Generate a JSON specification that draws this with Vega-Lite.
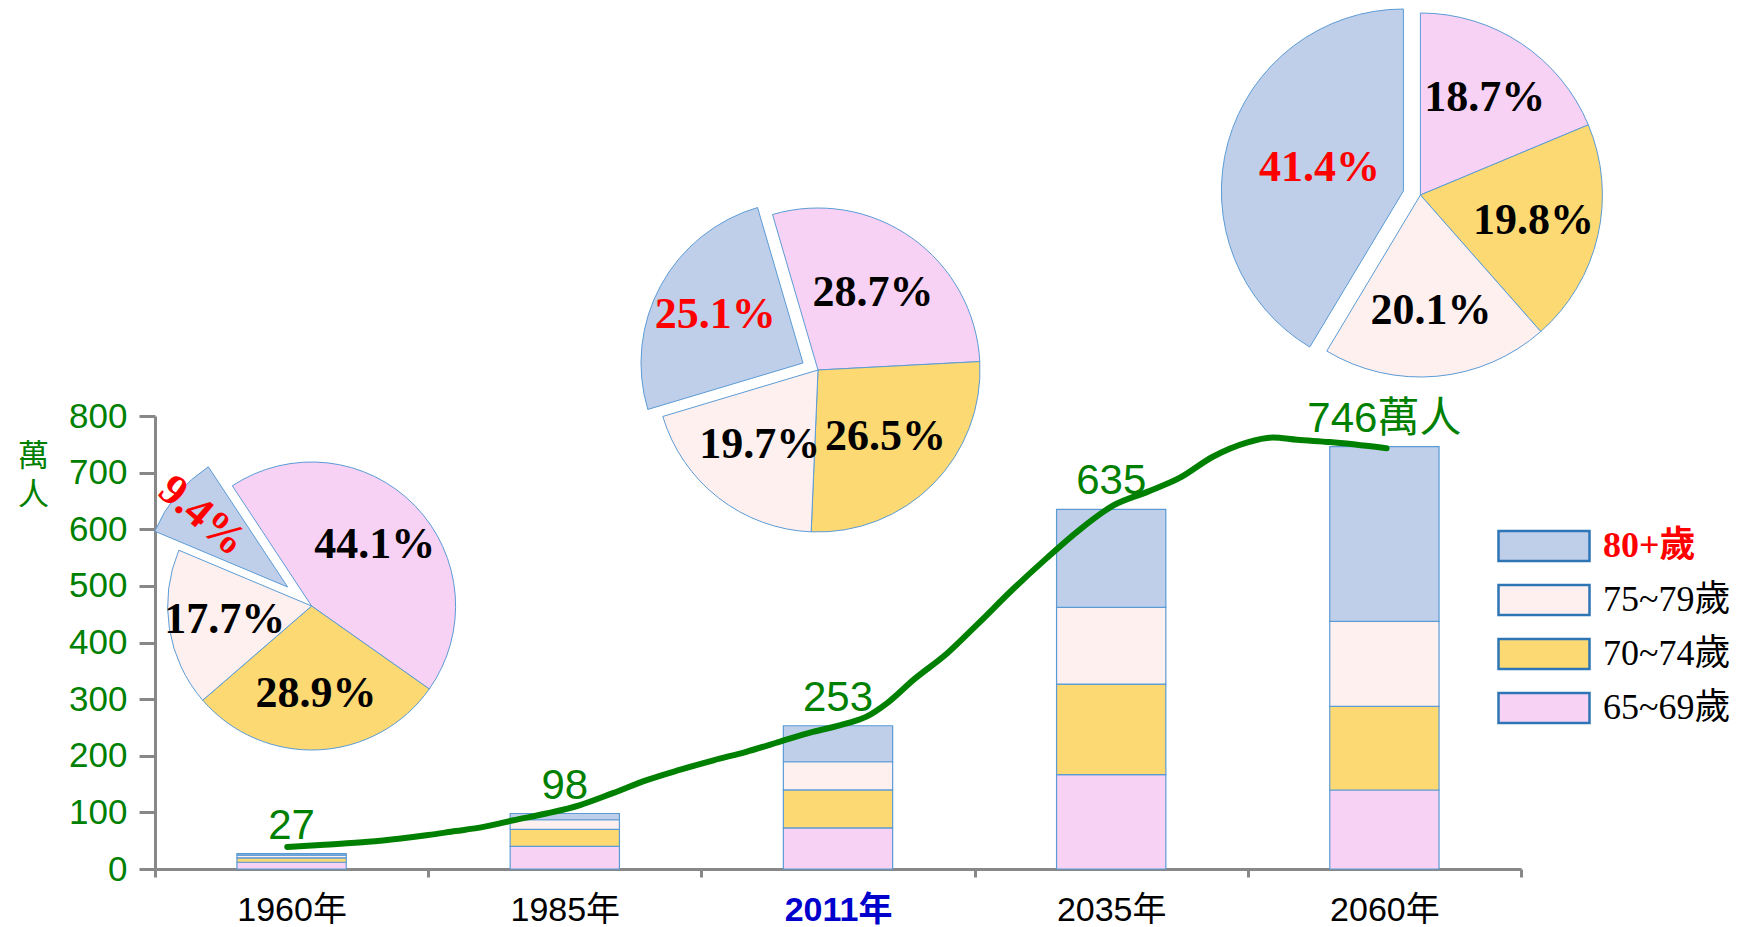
{
  "$schema": "https://vega.github.io/schema/vega-lite/v6.json",
  "width": 1366,
  "height": 453,
  "autosize": {"type": "none"},
  "padding": {"left": 155, "top": 416, "right": 217, "bottom": 58},
  "background": "white",
  "config": {"view": {"stroke": null}},
  "datasets": {
    "bars": [
      {"year": "1960年", "group": "65~69歲", "value": 11.9},
      {"year": "1960年", "group": "70~74歲", "value": 7.8},
      {"year": "1960年", "group": "75~79歲", "value": 4.8},
      {"year": "1960年", "group": "80+歲", "value": 2.5},
      {"year": "1985年", "group": "65~69歲", "value": 40},
      {"year": "1985年", "group": "70~74歲", "value": 30},
      {"year": "1985年", "group": "75~79歲", "value": 17},
      {"year": "1985年", "group": "80+歲", "value": 11},
      {"year": "2011年", "group": "65~69歲", "value": 72.6},
      {"year": "2011年", "group": "70~74歲", "value": 67.0},
      {"year": "2011年", "group": "75~79歲", "value": 49.8},
      {"year": "2011年", "group": "80+歲", "value": 63.6},
      {"year": "2035年", "group": "65~69歲", "value": 166.5},
      {"year": "2035年", "group": "70~74歲", "value": 160},
      {"year": "2035年", "group": "75~79歲", "value": 135.5},
      {"year": "2035年", "group": "80+歲", "value": 173},
      {"year": "2060年", "group": "65~69歲", "value": 139.5},
      {"year": "2060年", "group": "70~74歲", "value": 147.7},
      {"year": "2060年", "group": "75~79歲", "value": 150.0},
      {"year": "2060年", "group": "80+歲", "value": 308.8}
    ],
    "totals": [
      {"year": "1960年", "total": 27, "label": "27"},
      {"year": "1985年", "total": 98, "label": "98"},
      {"year": "2011年", "total": 253, "label": "253"},
      {"year": "2035年", "total": 635, "label": "635"},
      {"year": "2060年", "total": 746, "label": "746萬人"}
    ],
    "pies": [
      {"year": "1960年", "group": "65~69歲", "p": 0.441},
      {"year": "1960年", "group": "70~74歲", "p": 0.289},
      {"year": "1960年", "group": "75~79歲", "p": 0.177},
      {"year": "1960年", "group": "80+歲", "p": 0.094},
      {"year": "2011年", "group": "65~69歲", "p": 0.287},
      {"year": "2011年", "group": "70~74歲", "p": 0.265},
      {"year": "2011年", "group": "75~79歲", "p": 0.197},
      {"year": "2011年", "group": "80+歲", "p": 0.251},
      {"year": "2060年", "group": "65~69歲", "p": 0.187},
      {"year": "2060年", "group": "70~74歲", "p": 0.198},
      {"year": "2060年", "group": "75~79歲", "p": 0.201},
      {"year": "2060年", "group": "80+歲", "p": 0.414}
    ],
    "line": [
      {"yr": 1959.6, "v": 39}, {"yr": 1963, "v": 43}, {"yr": 1967, "v": 48},
      {"yr": 1970, "v": 54}, {"yr": 1972.5, "v": 60}, {"yr": 1975, "v": 67},
      {"yr": 1977.2, "v": 73}, {"yr": 1980.3, "v": 86}, {"yr": 1983.3, "v": 98},
      {"yr": 1986.4, "v": 113}, {"yr": 1989.4, "v": 134}, {"yr": 1992.5, "v": 157},
      {"yr": 1995.5, "v": 175}, {"yr": 1998.6, "v": 192}, {"yr": 2001.6, "v": 207},
      {"yr": 2004.7, "v": 225}, {"yr": 2007.7, "v": 242}, {"yr": 2010.8, "v": 257},
      {"yr": 2012.6, "v": 269}, {"yr": 2014.5, "v": 293}, {"yr": 2016.9, "v": 334},
      {"yr": 2020, "v": 381}, {"yr": 2022.7, "v": 431}, {"yr": 2026, "v": 494},
      {"yr": 2029.1, "v": 549}, {"yr": 2032.1, "v": 599}, {"yr": 2035.2, "v": 642},
      {"yr": 2038.3, "v": 666}, {"yr": 2041.3, "v": 691}, {"yr": 2044.3, "v": 728},
      {"yr": 2047.4, "v": 753}, {"yr": 2049.8, "v": 762}, {"yr": 2052, "v": 758},
      {"yr": 2055, "v": 754}, {"yr": 2060.2, "v": 743}
    ]
  },
  "layer": [
    {
      "data": {"name": "bars"},
      "mark": {"type": "bar", "width": {"band": 0.4}, "stroke": "#5b9bd5", "strokeWidth": 1.2},
      "encoding": {
        "x": {
          "field": "year", "type": "nominal",
          "scale": {"type": "band", "domain": ["1960年", "1985年", "2011年", "2035年", "2060年"], "paddingInner": 0, "paddingOuter": 0},
          "axis": {
            "title": null, "tickBand": "extent", "labelAngle": 0,
            "labelFont": "Liberation Sans, Noto Sans CJK TC", "labelFontSize": 34,
            "labelColor": {"condition": {"test": "datum.value === '2011年'", "value": "#0000cc"}, "value": "#000000"},
            "labelFontWeight": {"condition": {"test": "datum.value === '2011年'", "value": "bold"}, "value": "normal"},
            "labelPadding": 16, "tickSize": 8, "tickWidth": 3, "tickColor": "#888888",
            "domainColor": "#888888", "domainWidth": 3
          }
        },
        "y": {
          "field": "value", "type": "quantitative", "stack": true,
          "scale": {"domain": [0, 800], "nice": false},
          "axis": {
            "values": [0, 100, 200, 300, 400, 500, 600, 700, 800],
            "title": ["萬", "人"], "titleAngle": 0, "titleX": -122, "titleY": 40,
            "titleAlign": "center", "titleBaseline": "middle", "titleFontSize": 31,
            "titleFont": "Noto Sans CJK TC", "titleFontWeight": "normal", "titleColor": "#008000",
            "titleLineHeight": 39,
            "labelFont": "Liberation Sans", "labelFontSize": 35, "labelColor": "#008000",
            "labelPadding": 12, "tickSize": 16, "tickWidth": 3, "tickColor": "#888888",
            "domainColor": "#888888", "domainWidth": 3, "grid": false, "labelOverlap": false
          }
        },
        "fill": {
          "field": "group", "type": "nominal",
          "scale": {"domain": ["80+歲", "75~79歲", "70~74歲", "65~69歲"], "range": ["#bfcfea", "#fff0f0", "#fcd973", "#f8d2f5"]},
          "legend": {
            "orient": "none", "legendX": 1342, "legendY": 112, "title": null,
            "symbolType": "M-1,-0.33H1V0.33H-1Z", "symbolSize": 8281,
            "symbolStrokeColor": "#2e75b6", "symbolStrokeWidth": 2.5, "symbolOpacity": 1,
            "labelFont": "Liberation Serif, Noto Sans CJK TC", "labelFontSize": 36,
            "labelOffset": 12, "labelLimit": 300,
            "clipHeight": 36, "rowPadding": 18,
            "labelColor": {"expr": "datum.label === '80+歲' ? '#ff0000' : '#000000'"},
            "labelFontWeight": {"expr": "datum.label === '80+歲' ? 'bold' : 'normal'"}
          }
        },
        "order": {"field": "group", "sort": "ascending"}
      }
    },
    {
      "data": {"name": "line"},
      "mark": {"type": "line", "interpolate": "monotone", "strokeWidth": 6, "color": "#008000", "strokeCap": "round"},
      "encoding": {
        "x": {"field": "yr", "type": "quantitative", "scale": {"domain": [1947.5, 2072.5], "nice": false, "zero": false}, "axis": null},
        "y": {"field": "v", "type": "quantitative"}
      }
    },
    {
      "data": {"name": "totals"},
      "mark": {"type": "text", "dy": -15, "baseline": "alphabetic", "fontSize": 42, "font": "Liberation Sans, Noto Sans CJK TC", "fill": "#008000"},
      "encoding": {
        "x": {"field": "year", "type": "nominal", "scale": {"type": "band", "domain": ["1960年", "1985年", "2011年", "2035年", "2060年"], "paddingInner": 0, "paddingOuter": 0}, "axis": null},
        "y": {"field": "total", "type": "quantitative"},
        "text": {"field": "label"}
      }
    },
    {
      "data": {"name": "pies"},
      "transform": [{"filter": "datum.year === '1960年'"}],
      "encoding": {
        "x": {"field": "year", "type": "nominal", "scale": {"type": "band", "domain": ["1960年", "1985年", "2011年", "2035年", "2060年"], "paddingInner": 0, "paddingOuter": 0}, "axis": null},
        "theta": {"field": "p", "type": "quantitative", "stack": true, "scale": {"domain": [0, 1.001], "range": [-0.583, 5.700]}},
        "order": {"field": "group", "sort": "ascending"}
      },
      "layer": [
        {"mark": {"type": "arc", "radius": 144, "xOffset": 20, "yOffset": -36.5, "stroke": "#5b9bd5", "strokeWidth": 1},
         "encoding": {"fill": {"field": "group", "type": "nominal", "legend": null},
                      "opacity": {"condition": {"test": "datum.group === '80+歲'", "value": 0}, "value": 1}}},
        {"mark": {"type": "arc", "radius": 144, "xOffset": -4, "yOffset": -55.5, "stroke": "#5b9bd5", "strokeWidth": 1},
         "encoding": {"fill": {"field": "group", "type": "nominal", "legend": null},
                      "opacity": {"condition": {"test": "datum.group === '80+歲'", "value": 1}, "value": 0}}},
        {"mark": {"type": "text", "radius": 88, "xOffset": 20, "yOffset": -36.5, "font": "Liberation Serif", "fontSize": 44, "fontWeight": "bold", "fill": "#000000"},
         "encoding": {"text": {"field": "p", "type": "quantitative", "format": ".1%"}, "detail": {"field": "group"},
                      "opacity": {"condition": {"test": "datum.group === '80+歲'", "value": 0}, "value": 1}}},
        {"mark": {"type": "text", "radius": 111, "angle": 40, "xOffset": -4, "yOffset": -55.5, "font": "Liberation Serif", "fontSize": 44, "fontWeight": "bold", "fill": "#ff0000"},
         "encoding": {"text": {"field": "p", "type": "quantitative", "format": ".1%"}, "detail": {"field": "group"},
                      "opacity": {"condition": {"test": "datum.group === '80+歲'", "value": 1}, "value": 0}}}
      ]
    },
    {
      "data": {"name": "pies"},
      "transform": [{"filter": "datum.year === '2011年'"}],
      "encoding": {
        "x": {"field": "year", "type": "nominal", "scale": {"type": "band", "domain": ["1960年", "1985年", "2011年", "2035年", "2060年"], "paddingInner": 0, "paddingOuter": 0}, "axis": null},
        "theta": {"field": "p", "type": "quantitative", "stack": true, "scale": {"domain": [0, 1.0], "range": [-0.2845, 5.9987]}},
        "order": {"field": "group", "sort": "ascending"}
      },
      "layer": [
        {"mark": {"type": "arc", "radius": 162, "xOffset": -20, "yOffset": -272.5, "stroke": "#5b9bd5", "strokeWidth": 1},
         "encoding": {"fill": {"field": "group", "type": "nominal", "legend": null},
                      "opacity": {"condition": {"test": "datum.group === '80+歲'", "value": 0}, "value": 1}}},
        {"mark": {"type": "arc", "radius": 162, "xOffset": -35, "yOffset": -279.5, "stroke": "#5b9bd5", "strokeWidth": 1},
         "encoding": {"fill": {"field": "group", "type": "nominal", "legend": null},
                      "opacity": {"condition": {"test": "datum.group === '80+歲'", "value": 1}, "value": 0}}},
        {"mark": {"type": "text", "radius": 95, "xOffset": -20, "yOffset": -272.5, "font": "Liberation Serif", "fontSize": 44, "fontWeight": "bold", "fill": "#000000"},
         "encoding": {"text": {"field": "p", "type": "quantitative", "format": ".1%"}, "detail": {"field": "group"},
                      "opacity": {"condition": {"test": "datum.group === '80+歲'", "value": 0}, "value": 1}}},
        {"mark": {"type": "text", "radius": 100, "xOffset": -35, "yOffset": -279.5, "font": "Liberation Serif", "fontSize": 44, "fontWeight": "bold", "fill": "#ff0000"},
         "encoding": {"text": {"field": "p", "type": "quantitative", "format": ".1%"}, "detail": {"field": "group"},
                      "opacity": {"condition": {"test": "datum.group === '80+歲'", "value": 1}, "value": 0}}}
      ]
    },
    {
      "data": {"name": "pies"},
      "transform": [{"filter": "datum.year === '2060年'"}],
      "encoding": {
        "x": {"field": "year", "type": "nominal", "scale": {"type": "band", "domain": ["1960年", "1985年", "2011年", "2035年", "2060年"], "paddingInner": 0, "paddingOuter": 0}, "axis": null},
        "theta": {"field": "p", "type": "quantitative", "stack": true, "scale": {"domain": [0, 1.0], "range": [0, 6.2832]}},
        "order": {"field": "group", "sort": "ascending"}
      },
      "layer": [
        {"mark": {"type": "arc", "radius": 182, "xOffset": 36, "yOffset": -447.5, "stroke": "#5b9bd5", "strokeWidth": 1},
         "encoding": {"fill": {"field": "group", "type": "nominal", "legend": null},
                      "opacity": {"condition": {"test": "datum.group === '80+歲'", "value": 0}, "value": 1}}},
        {"mark": {"type": "arc", "radius": 182, "xOffset": 19, "yOffset": -451.5, "stroke": "#5b9bd5", "strokeWidth": 1},
         "encoding": {"fill": {"field": "group", "type": "nominal", "legend": null},
                      "opacity": {"condition": {"test": "datum.group === '80+歲'", "value": 1}, "value": 0}}},
        {"mark": {"type": "text", "radius": 116, "xOffset": 36, "yOffset": -447.5, "font": "Liberation Serif", "fontSize": 44, "fontWeight": "bold", "fill": "#000000"},
         "encoding": {"text": {"field": "p", "type": "quantitative", "format": ".1%"}, "detail": {"field": "group"},
                      "opacity": {"condition": {"test": "datum.group === '80+歲'", "value": 0}, "value": 1}}},
        {"mark": {"type": "text", "radius": 87, "xOffset": 19, "yOffset": -451.5, "font": "Liberation Serif", "fontSize": 44, "fontWeight": "bold", "fill": "#ff0000"},
         "encoding": {"text": {"field": "p", "type": "quantitative", "format": ".1%"}, "detail": {"field": "group"},
                      "opacity": {"condition": {"test": "datum.group === '80+歲'", "value": 1}, "value": 0}}}
      ]
    }
  ],
  "resolve": {"scale": {"x": "independent", "theta": "independent"}}
}
